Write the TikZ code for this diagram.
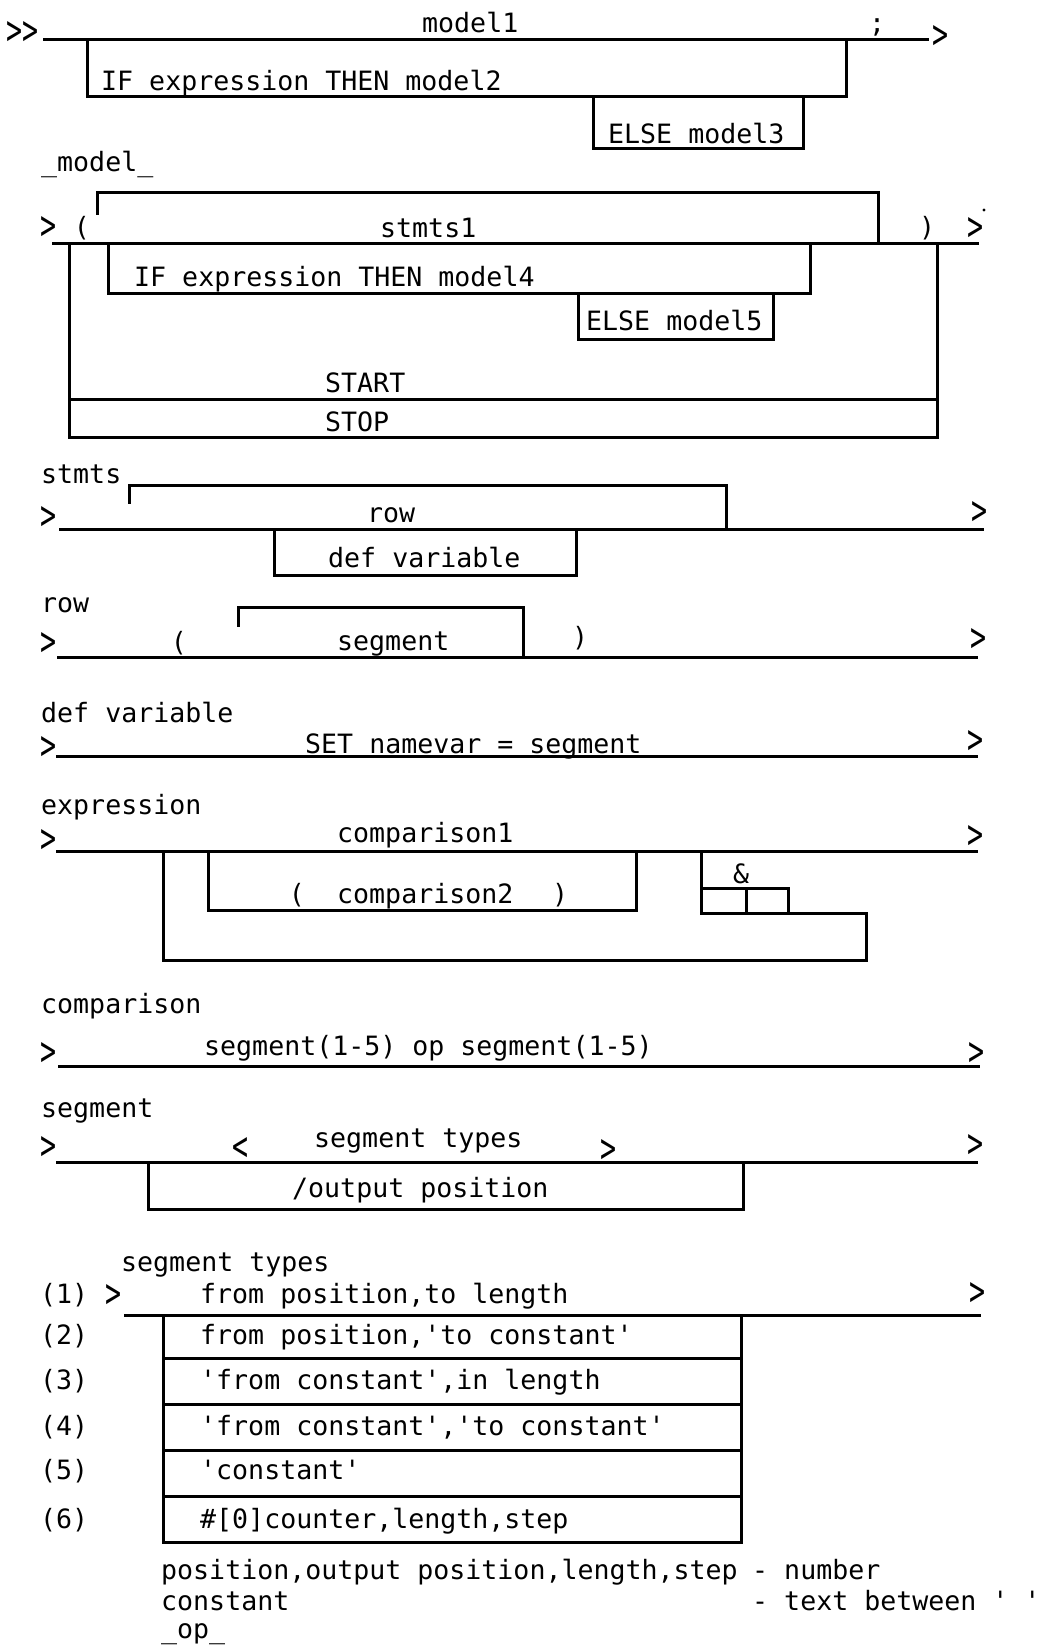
\documentclass[tikz,border=0pt]{standalone}
\usepackage{graphicx}
\usepackage{fontspec}
\setmonofont{DejaVu Sans Mono}
\newcommand\mygt{\scalebox{1.0}[1.55]{>}}
\newcommand\mylt{\scalebox{1.0}[1.55]{<}}
\begin{document}
\begin{tikzpicture}[x=1pt,y=-1pt,
  txt/.style={anchor=base west, inner sep=0pt, font=\ttfamily\fontsize{26.6}{30}\selectfont},
  ctxt/.style={anchor=base, inner sep=0pt, font=\ttfamily\fontsize{26.6}{30}\selectfont},
  ln/.style={line width=3pt, line cap=rect, line join=miter}]
\useasboundingbox (0,0) rectangle (1042,1648);
\fill[white] (0,0) rectangle (1042,1648);

% ---------- top rule
\node[ctxt] (st) at (23,45) {\scalebox{1}[1.55]{>>}};
\draw[ln] (44,40) -- (927,40);
\node[txt] (m1) at (422,33) {model1};
\node[ctxt] (semi) at (877,33) {;};
\node[ctxt] (e1) at (940,49) {\mygt};
\draw[ln] (87,40) |- (846,97) -- (846,40);
\node[txt] (if2) at (101,91) {IF expression THEN model2};
\draw[ln] (593,97) |- (803,149) -- (803,97);
\node[txt] (el3) at (608,144) {ELSE model3};

% ---------- _model_
\node[txt] (lmodel) at (41,172) {\_model\_};
\node[ctxt] (a2) at (49,239) {\mygt};
\node[ctxt] (p2) at (82,236) {(};
\draw[ln] (53,243) -- (977,243);
\draw[ln] (97,213) |- (878,193) -- (878,243);
\node[txt] (st1) at (380,237) {stmts1};
\node[ctxt] (q2) at (927,236) {)};
\node[ctxt] (b2) at (975,240) {\mygt};
\fill (984,210) circle (1.6);
\draw[ln] (69,243) -- (69,437) -- (937,437) -- (937,243);
\draw[ln] (69,399) -- (937,399);
\draw[ln] (108,245) -- (108,290);
\draw[ln] (108,293) -- (810,293) -- (810,243);
\node[txt] (if4) at (134,286) {IF expression THEN model4};
\draw[ln] (578,293) |- (773,339) -- (773,293);
\node[txt] (el5) at (586,330) {ELSE model5};
\node[txt] (start) at (325,392) {START};
\node[txt] (stop) at (325,431) {STOP};

% ---------- stmts
\node[txt] (lstmts) at (41,483) {stmts};
\node[ctxt] (a3) at (49,529) {\mygt};
\draw[ln] (60,529) -- (982,529);
\draw[ln] (129,502) |- (726,485) -- (726,529);
\node[txt] (row) at (367,522) {row};
\node[ctxt] (b3) at (979,524) {\mygt};
\draw[ln] (274,529) |- (576,575) -- (576,529);
\node[txt] (defv) at (328,567) {def variable};

% ---------- row
\node[txt] (lrow) at (41,612) {row};
\node[ctxt] (a4) at (49,655) {\mygt};
\draw[ln] (58,657) -- (976,657);
\draw[ln] (238,625) |- (523,607) -- (523,657);
\node[ctxt] (p4) at (179,651) {(};
\node[txt] (seg4) at (337,650) {segment};
\node[ctxt] (q4) at (580,646) {)};
\node[ctxt] (b4) at (978,651) {\mygt};

% ---------- def variable
\node[txt] (ldef) at (41,722) {def variable};
\node[ctxt] (a5) at (49,759) {\mygt};
\draw[ln] (57,756) -- (976,756);
\node[txt] (set) at (305,753) {SET namevar = segment};
\node[ctxt] (b5) at (975,753) {\mygt};

% ---------- expression
\node[txt] (lexpr) at (41,814) {expression};
\node[ctxt] (a6) at (49,852) {\mygt};
\draw[ln] (57,851) -- (976,851);
\node[txt] (cmp1) at (337,842) {comparison1};
\node[ctxt] (b6) at (975,848) {\mygt};
\draw[ln] (163,851) |- (866,960) |- (701,913) -- (701,851);
\draw[ln] (701,888) -| (788,913);
\draw[ln] (746,888) -- (746,913);
\node[ctxt] (amp) at (741,883) {\&};
\draw[ln] (208,851) |- (636,910) -- (636,851);
\node[ctxt] (p6) at (297,903) {(};
\node[txt] (cmp2) at (337,903) {comparison2};
\node[ctxt] (q6) at (560,903) {)};

% ---------- comparison
\node[txt] (lcmp) at (41,1013) {comparison};
\node[ctxt] (a7) at (49,1065) {\mygt};
\draw[ln] (59,1066) -- (978,1066);
\node[txt] (segop) at (204,1055) {segment(1-5) op segment(1-5)};
\node[ctxt] (b7) at (976,1065) {\mygt};

% ---------- segment
\node[txt] (lseg) at (41,1117) {segment};
\node[ctxt] (a8) at (49,1159) {\mygt};
\draw[ln] (57,1162) -- (976,1162);
\node[ctxt] (lt8) at (241,1160) {\mylt};
\node[txt] (segt) at (314,1147) {segment types};
\node[ctxt] (gt8) at (608,1162) {\mygt};
\node[ctxt] (b8) at (975,1157) {\mygt};
\draw[ln] (148,1162) |- (743,1209) -- (743,1162);
\node[txt] (outp) at (292,1197) {/output position};

% ---------- segment types
\node[txt] (lsegt) at (121,1271) {segment types};
\node[txt] (n1) at (40,1303) {(1)};
\node[ctxt] (a9) at (114,1307) {\mygt};
\draw[ln] (125,1315) -- (979,1315);
\node[txt] (r1) at (200,1303) {from position,to length};
\node[ctxt] (b9) at (977,1305) {\mygt};
\draw[ln] (163,1315) -- (163,1542) -- (741,1542) -- (741,1315);
\foreach \yy in {1358,1404,1450,1496} \draw[ln] (163,\yy) -- (741,\yy);
\node[txt] (n2) at (40,1344) {(2)};
\node[txt] (r2) at (200,1344) {from position,'to constant'};
\node[txt] (n3) at (40,1389) {(3)};
\node[txt] (r3) at (200,1389) {'from constant',in length};
\node[txt] (n4) at (40,1435) {(4)};
\node[txt] (r4) at (200,1435) {'from constant','to constant'};
\node[txt] (n5) at (40,1479) {(5)};
\node[txt] (r5) at (200,1479) {'constant'};
\node[txt] (n6) at (40,1528) {(6)};
\node[txt] (r6) at (200,1528) {\#[0]counter,length,step};

\node[txt] (nt1) at (161,1579) {position,output position,length,step};
\node[txt] (nt1b) at (752,1579) {- number};
\node[txt] (nt2) at (161,1610) {constant};
\node[txt] (nt2b) at (752,1610) {- text between ' '};
\node[txt] (nt3) at (161,1638) {\_op\_};
\end{tikzpicture}
\end{document}
